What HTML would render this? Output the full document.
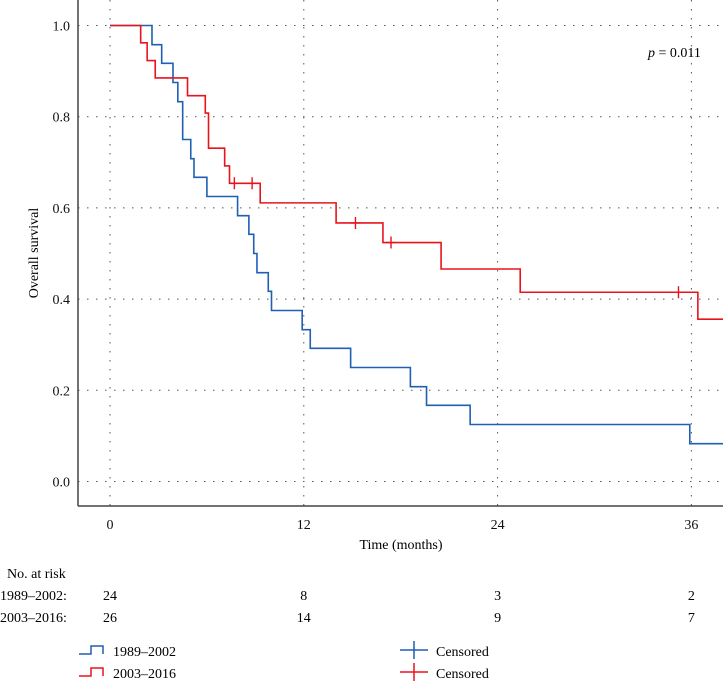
<!DOCTYPE html>
<html><head><meta charset="utf-8"><style>
body{margin:0;background:#fff;}
svg{display:block;font-family:"Liberation Serif",serif;}
</style></head><body>
<svg id="chart" width="723" height="682">
<g id="grid"></g>
<g id="curves"></g>
<line x1="78" y1="0" x2="78" y2="506" stroke="#444" stroke-width="1.5"/>
<line x1="78" y1="506" x2="723" y2="506" stroke="#444" stroke-width="1.5"/>
<g id="ticks" font-size="14" fill="#111"></g>
<text x="38" y="253" font-size="14" text-anchor="middle" transform="rotate(-90 38 253)">Overall survival</text>
<text x="401" y="549" font-size="14" text-anchor="middle">Time (months)</text>
<text x="648" y="57" font-size="14"><tspan font-style="italic">p</tspan> = 0.011</text>
<text x="7" y="578" font-size="14">No. at risk</text>
<text x="0" y="600" font-size="14">1989–2002:</text>
<text x="0" y="622" font-size="14">2003–2016:</text>
<g id="risk" font-size="14" text-anchor="middle"></g>
<g font-size="14">
<path d="M79 654 H91 V646 H103 V654" fill="none" stroke="#1f5fb4" stroke-width="1.5"/>
<text x="113" y="656">1989–2002</text>
<path d="M79 676 H91 V668 H103 V676" fill="none" stroke="#e8141c" stroke-width="1.5"/>
<text x="113" y="678">2003–2016</text>
<path d="M400 650 H428 M414 641 V659" stroke="#1f5fb4" stroke-width="1.5"/>
<text x="436" y="656">Censored</text>
<path d="M400 672 H428 M414 663 V681" stroke="#e8141c" stroke-width="1.5"/>
<text x="436" y="678">Censored</text>
</g>
</svg>
<script>
const xTicks=[0,12,24,36];
const yTicks=[0,0.2,0.4,0.6,0.8,1.0];
const blueTimes=[0,2.6,3.2,3.9,4.2,4.5,5.0,5.2,6.0,7.9,8.6,8.9,9.1,9.8,10.0,11.9,12.4,14.9,18.6,19.6,22.3,35.9];
const blueSurv=[1,0.958,0.917,0.875,0.833,0.75,0.708,0.667,0.625,0.583,0.542,0.5,0.458,0.417,0.375,0.333,0.292,0.25,0.208,0.167,0.125,0.083];
const redTimes=[0,1.9,2.3,2.8,4.8,5.9,6.1,7.1,7.4,9.3,14.0,16.9,20.5,25.4,36.4];
const redSurv=[1,0.962,0.923,0.885,0.846,0.808,0.731,0.692,0.654,0.611,0.567,0.524,0.466,0.415,0.356];
const redCensT=[7.7,8.8,15.2,17.4,35.2];
const riskBlue=[24,8,3,2];
const riskRed=[26,14,9,7];
const NS="http://www.w3.org/2000/svg";
const X=t=>110+t*16.15, Y=v=>25.5+(1-v)*456;
const maxT=38.3;
function mk(tag,attrs,parent){const e=document.createElementNS(NS,tag);for(const k in attrs)e.setAttribute(k,attrs[k]);parent.appendChild(e);return e;}
const grid=document.getElementById('grid'),ticks=document.getElementById('ticks');
yTicks.forEach(v=>{
 const l=mk('line',{x1:78,x2:723,y1:Y(v),y2:Y(v),stroke:'#555','stroke-width':1,'stroke-dasharray':'1.5 7.5'},grid);
 
 
 const t=mk('text',{x:70,y:Y(v)+5,'text-anchor':'end'},ticks);t.textContent=v.toFixed(1);
 
 
});
xTicks.forEach(v=>{
 const l=mk('line',{x1:X(v),x2:X(v),y1:0,y2:506,stroke:'#555','stroke-width':1,'stroke-dasharray':'1.5 7.5'},grid);
 
 
 const t=mk('text',{x:X(v),y:529,'text-anchor':'middle'},ticks);t.textContent=v;
 
 
});
const risk=document.getElementById('risk');
xTicks.forEach((v,i)=>{
 const a=mk('text',{x:X(v),y:600},risk);a.textContent=riskBlue[i];
 
 
 const b=mk('text',{x:X(v),y:622},risk);b.textContent=riskRed[i];
 
 
});
function stepPath(ts,ss){let d='M'+X(ts[0])+' '+Y(ss[0]);for(let i=1;i<ts.length;i++){d+=' H'+X(ts[i])+' V'+Y(ss[i]);}d+=' H'+X(maxT);return d;}
const curves=document.getElementById('curves');
const bp=mk('path',{d:stepPath(blueTimes,blueSurv),fill:'none',stroke:'#1f5fb4','stroke-width':1.6},curves);


const rp=mk('path',{d:stepPath(redTimes,redSurv),fill:'none',stroke:'#e8141c','stroke-width':1.6},curves);


function survAt(ts,ss,t){let s=ss[0];for(let i=0;i<ts.length;i++)if(ts[i]<=t)s=ss[i];return s;}
redCensT.forEach(t=>{
 const s=survAt(redTimes,redSurv,t);
 const c=mk('path',{d:`M${X(t)-5} ${Y(s)} H${X(t)+5} M${X(t)} ${Y(s)-6} V${Y(s)+6}`,stroke:'#e8141c','stroke-width':1.4},curves);
 
 
});
</script>
</body></html>
